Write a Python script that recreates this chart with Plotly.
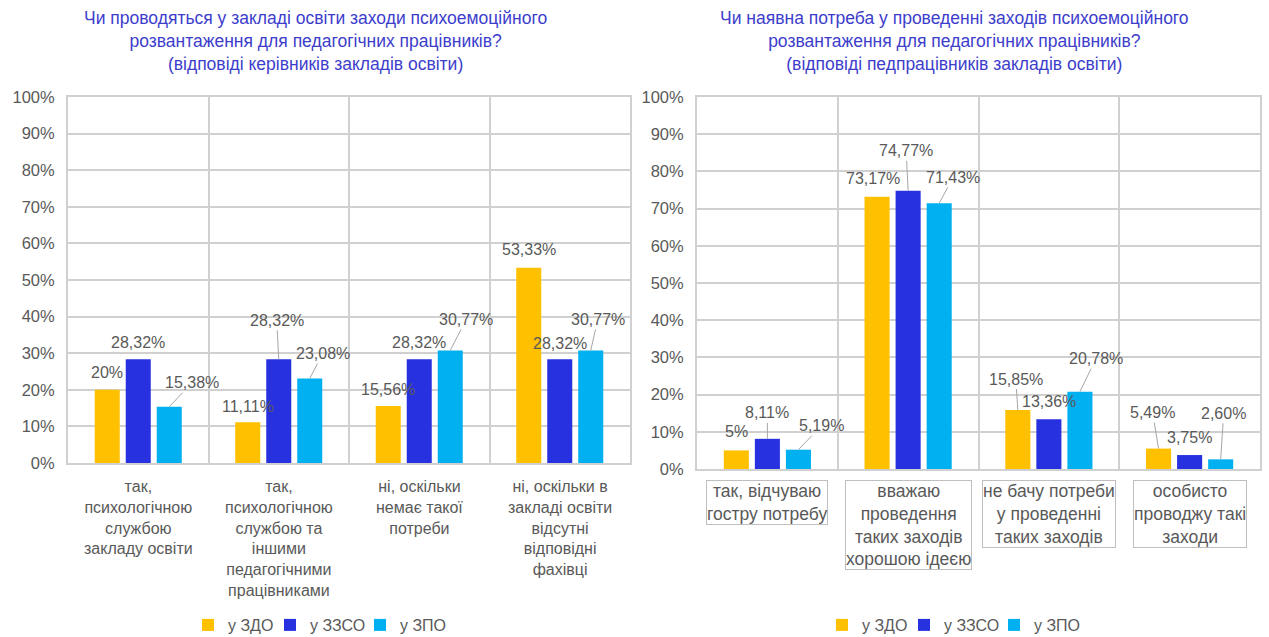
import plotly.graph_objects as go

# ---- data -------------------------------------------------------------
series_names = ["у ЗДО", "у ЗЗСО", "у ЗПО"]
series_colors = ["#FFC000", "#2831E0", "#00B0F0"]

left_categories = [
    "так,<br>психологічною<br>службою<br>закладу освіти",
    "так,<br>психологічною<br>службою та<br>іншими<br>педагогічними<br>працівниками",
    "ні, оскільки<br>немає такої<br>потреби",
    "ні, оскільки в<br>закладі освіти<br>відсутні<br>відповідні<br>фахівці",
]
left_zdo = [20, 11.11, 15.56, 53.33]
left_zzso = [28.32, 28.32, 28.32, 28.32]
left_zpo = [15.38, 23.08, 30.77, 30.77]

right_categories = [
    "так, відчуваю<br>гостру потребу",
    "вважаю<br>проведення<br>таких заходів<br>хорошою ідеєю",
    "не бачу потреби<br>у проведенні<br>таких заходів",
    "особисто<br>проводжу такі<br>заходи",
]
right_zdo = [5, 73.17, 15.85, 5.49]
right_zzso = [8.11, 74.77, 13.36, 3.75]
right_zpo = [5.19, 71.43, 20.78, 2.60]

left_title = ("Чи проводяться у закладі освіти заходи психоемоційного<br>"
              "розвантаження для педагогічних працівників?<br>"
              "(відповіді керівників закладів освіти)")
right_title = ("Чи наявна потреба у проведенні заходів психоемоційного<br>"
               "розвантаження для педагогічних працівників?<br>"
               "(відповіді педпрацівників закладів освіти)")

# ---- layout constants -------------------------------------------------
W, H = 1269, 637
FONT = "Liberation Sans, Arial, sans-serif"
GRAY = "#595959"
GRID = "#d0d0d0"
TITLE_COLOR = "#3D3DCC"
BARGAP = 0.338
GROUPGAP = 0.193
SLOT = (1 - BARGAP) / 3

# plot areas in pixels: (left, right, top, bottom)
LEFT_BOX = (68, 630, 97, 463)
RIGHT_BOX = (697, 1260, 97, 469)

# legend entry widths (px) and left edge of each legend
LEGEND_ENTRY_W = [37, 45, 50]
LEGEND_LEFT = [188, 822]

# label offsets in px (dx, dy) relative to each bar top, and whether a leader line is drawn
left_label_pos = [
    [(0, -17, False), (0, -16, False), (0, -17, False), (0, -18, False)],
    [(0, -17, False), (-2, -39, True), (0, -17, False), (0, -16, False)],
    [(23, -24, True), (13, -25, True), (16, -31, True), (7, -31, True)],
]
right_label_pos = [
    [(0, -19, False), (-4, -18, False), (-2, -31, True), (-6, -36, True)],
    [(0, -26, True), (-2, -40, True), (0, -18, False), (0, -18, False)],
    [(23, -24, True), (14, -26, True), (16, -33, True), (3, -46, True)],
]


def fmt(v):
    if abs(v - round(v)) < 1e-9:
        return f"{int(round(v))}%"
    return f"{v:.2f}".replace(".", ",") + "%"


def xdom(box):
    return [box[0] / W, box[1] / W]


def ydom(box):
    return [1 - box[3] / H, 1 - box[2] / H]


fig = go.Figure()

panels = [
    ("x", "y", "legend", left_categories, [left_zdo, left_zzso, left_zpo], left_label_pos, LEFT_BOX, left_title),
    ("x2", "y2", "legend2", right_categories, [right_zdo, right_zzso, right_zpo], right_label_pos, RIGHT_BOX, right_title),
]

annotations = []
for xa, ya, leg, cats, vals, pos, box, title in panels:
    for k, (name, color, v) in enumerate(zip(series_names, series_colors, vals)):
        fig.add_trace(go.Bar(
            x=list(range(len(cats))), y=v, name=name, marker_color=color,
            marker_line_width=0, xaxis=xa, yaxis=ya, legend=leg,
            legendwidth=LEGEND_ENTRY_W[k], hoverinfo="skip",
        ))
        for i, val in enumerate(v):
            dx, dy, leader = pos[k][i]
            annotations.append(dict(
                x=i + (k - 1) * SLOT, y=val, xref=xa, yref=ya,
                text=fmt(val), showarrow=True, ax=dx, ay=dy,
                arrowhead=0, arrowwidth=1, standoff=0,
                arrowcolor="#a6a6a6" if leader else "rgba(0,0,0,0)",
                font=dict(family=FONT, size=16, color=GRAY),
            ))
    # category labels under the plot area
    boxed = xa == "x2"
    for i, c in enumerate(cats):
        annotations.append(dict(
            x=i, xref=xa, y=1 - (box[3] + (11 if boxed else 15)) / H, yref="paper",
            yanchor="top", xanchor="center", text=c, showarrow=False,
            align="center",
            font=dict(family=FONT, size=17.5 if boxed else 16, color=GRAY),
            bordercolor="#bfbfbf" if boxed else "rgba(0,0,0,0)",
            borderwidth=1 if boxed else 0, borderpad=0,
        ))
    # chart title
    cx = (box[0] + box[1]) / 2 - (34 if xa == "x" else 24)
    annotations.append(dict(
        x=cx / W, xref="paper", y=1 - 6 / H, yref="paper",
        yanchor="top", xanchor="center", text=title, showarrow=False,
        align="center", font=dict(family=FONT, size=17.5, color=TITLE_COLOR),
    ))

axis_common = dict(showgrid=True, gridcolor=GRID, gridwidth=2,
                   showline=True, linecolor=GRID, linewidth=2, mirror=True,
                   zeroline=False, fixedrange=True, automargin=False)

legend_common = dict(orientation="h", xanchor="left", y=1 - 625 / H,
                     yanchor="middle", font=dict(family=FONT, size=16, color=GRAY),
                     itemwidth=30, bgcolor="rgba(0,0,0,0)")

fig.update_layout(
    width=W, height=H,
    margin=dict(l=0, r=0, t=0, b=0, pad=0, autoexpand=False),
    paper_bgcolor="white", plot_bgcolor="white",
    barmode="group", bargap=BARGAP, bargroupgap=GROUPGAP,
    font=dict(family=FONT, size=16, color=GRAY),
    showlegend=True,
    xaxis=dict(domain=xdom(LEFT_BOX), anchor="y", type="linear", range=[-0.5, 3.5],
               tickvals=[-0.5, 0.5, 1.5, 2.5, 3.5], showticklabels=False, ticks="",
               **axis_common),
    yaxis=dict(domain=ydom(LEFT_BOX), anchor="x", range=[0, 100], dtick=10,
               ticksuffix="%", ticks="", ticklabelstandoff=8,
               tickfont=dict(family=FONT, size=16.5, color=GRAY), **axis_common),
    xaxis2=dict(domain=xdom(RIGHT_BOX), anchor="y2", type="linear", range=[-0.5, 3.5],
                tickvals=[-0.5, 0.5, 1.5, 2.5, 3.5], showticklabels=False, ticks="",
                **axis_common),
    yaxis2=dict(domain=ydom(RIGHT_BOX), anchor="x2", range=[0, 100], dtick=10,
                ticksuffix="%", ticks="", ticklabelstandoff=8,
                tickfont=dict(family=FONT, size=16.5, color=GRAY), **axis_common),
    legend=dict(x=LEGEND_LEFT[0] / W, **legend_common),
    legend2=dict(x=LEGEND_LEFT[1] / W, **legend_common),
    annotations=annotations,
)

fig.write_html("out.html")
